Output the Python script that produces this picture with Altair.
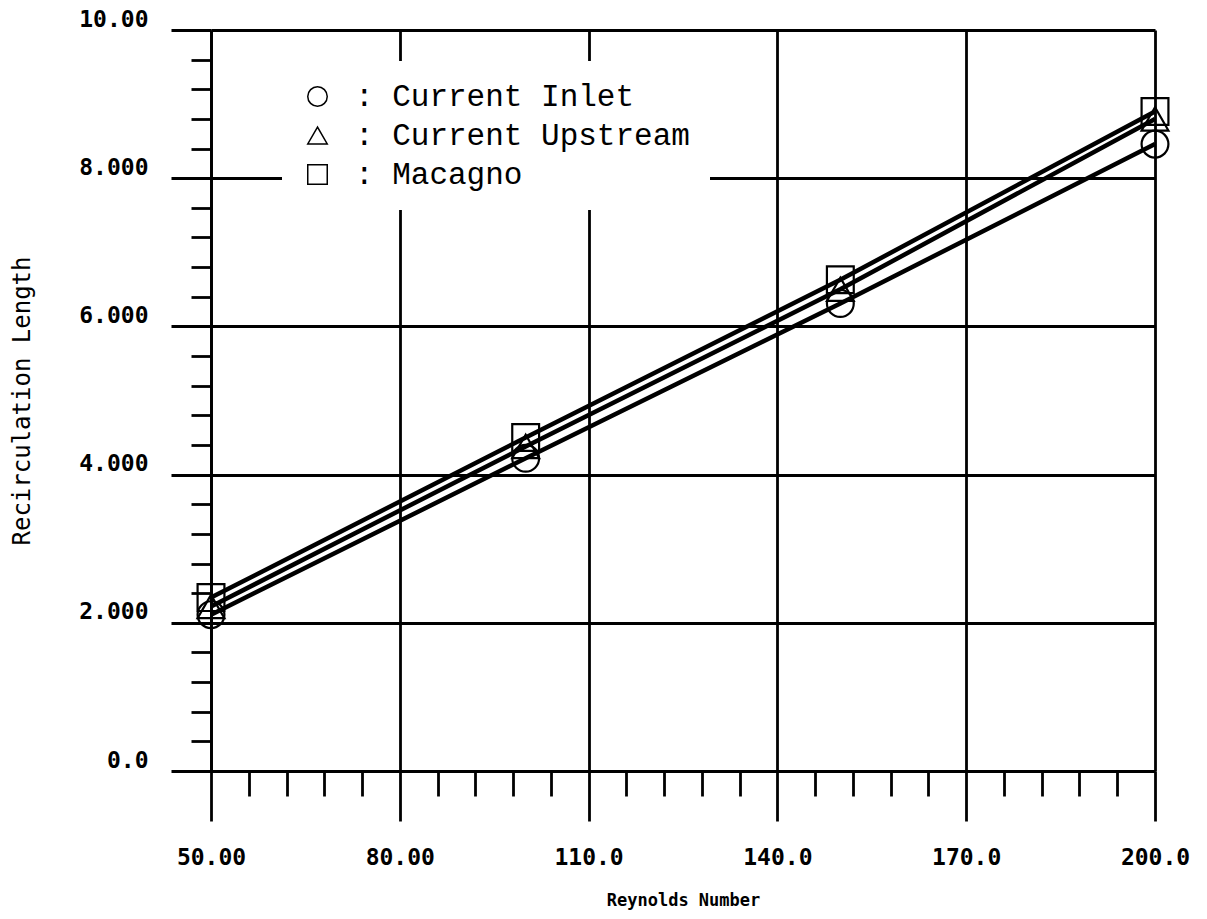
import altair as alt
import pandas as pd

# Recirculation length versus Reynolds number for three inlet treatments
reynolds = [50, 100, 150, 200]
current_inlet = [2.11, 4.22, 6.31, 8.46]
current_upstream = [2.22, 4.38, 6.50, 8.80]
macagno = [2.34, 4.50, 6.63, 8.90]

series_names = ["Current Inlet", "Current Upstream", "Macagno"]
series_shapes = ["circle", "triangle-up", "square"]

x_major_labels = {50: "50.00", 80: "80.00", 110: "110.0", 140: "140.0", 170: "170.0", 200: "200.0"}
y_major_labels = {0: "0.0", 2: "2.000", 4: "4.000", 6: "6.000", 8: "8.000", 10: "10.00"}

x_tick_values = list(range(50, 201, 6))
y_tick_values = [round(i * 0.4, 1) for i in range(26)]

rows = []
for name, vals in zip(series_names, [current_inlet, current_upstream, macagno]):
    for re, v in zip(reynolds, vals):
        rows.append({"Re": re, "L": v, "series": name})
df = pd.DataFrame(rows)


def label_expr(mapping):
    pairs = ", ".join(f"'{k}': '{v}'" for k, v in mapping.items())
    return "({" + pairs + "})[datum.value] || ''"


x_major_test = " || ".join(f"datum.value === {k}" for k in x_major_labels)
y_major_test = " || ".join(f"datum.value === {k}" for k in y_major_labels)

x_axis = alt.Axis(
    values=x_tick_values,
    labelExpr=label_expr(x_major_labels),
    tickSize={"condition": {"test": x_major_test, "value": 50}, "value": 25},
    gridOpacity={"condition": {"test": x_major_test, "value": 1}, "value": 0},
    grid=True,
    gridColor="black",
    gridWidth=2.8,
    tickColor="black",
    tickWidth=2.8,
    domainColor="black",
    domainWidth=2.8,
    labelFont="DejaVu Sans Mono",
    labelFontWeight="bold",
    labelFontSize=23,
    labelColor="black",
    labelPadding=25,
    labelFlush=False,
    labelOverlap=False,
    title="Reynolds Number",
    titleFont="DejaVu Sans Mono",
    titleFontWeight="bold",
    titleFontSize=17,
    titleColor="black",
    titleBaseline="middle",
    titleY=129,
)

y_axis = alt.Axis(
    values=y_tick_values,
    labelExpr=label_expr(y_major_labels),
    tickSize={"condition": {"test": y_major_test, "value": 40}, "value": 20},
    gridOpacity={"condition": {"test": y_major_test, "value": 1}, "value": 0},
    grid=True,
    gridColor="black",
    gridWidth=2.8,
    tickColor="black",
    tickWidth=2.8,
    domainColor="black",
    domainWidth=2.8,
    labelFont="DejaVu Sans Mono",
    labelFontWeight="bold",
    labelFontSize=23,
    labelColor="black",
    labelPadding=23,
    labelBaseline="alphabetic",
    labelOffset=-4,
    labelFlush=False,
    labelOverlap=False,
    title="Recirculation Length",
    titleFont="DejaVu Sans Mono",
    titleFontWeight="normal",
    titleFontSize=24,
    titleColor="black",
    titleBaseline="middle",
    titleX=-189,
)

x_enc = alt.X("Re:Q", scale=alt.Scale(domain=[50, 200], nice=False, zero=False), axis=x_axis)
y_enc = alt.Y("L:Q", scale=alt.Scale(domain=[0, 10], nice=False), axis=y_axis)

lines = alt.Chart(df).mark_line(color="black", strokeWidth=4.5).encode(
    x=x_enc, y=y_enc, detail="series:N"
)

points = alt.Chart(df).mark_point(
    filled=False, color="black", strokeWidth=2.2, size=720, opacity=1
).encode(
    x=x_enc,
    y=y_enc,
    shape=alt.Shape(
        "series:N",
        scale=alt.Scale(domain=series_names, range=series_shapes),
        legend=alt.Legend(
            title=None,
            orient="none",
            legendX=71,
            legendY=31,
            fillColor="white",
            padding=20,
            rowPadding=7,
            symbolSize=380,
            symbolStrokeColor="black",
            symbolFillColor="white",
            symbolStrokeWidth=1.5,
            labelFont="Liberation Mono",
            labelFontSize=31,
            labelColor="black",
            labelOffset=22,
            labelLimit=600,
            labelExpr="': ' + datum.label",
        ),
    ),
)

chart = (
    alt.layer(lines, points)
    .properties(
        width=944,
        height=741,
        autosize=alt.AutoSizeParams(type="none"),
        padding={"left": 211, "top": 30, "right": 52, "bottom": 148},
        background="white",
    )
    .configure_view(stroke=None)
)

chart.save("out.html", embed_options={"renderer": "svg", "actions": False})
